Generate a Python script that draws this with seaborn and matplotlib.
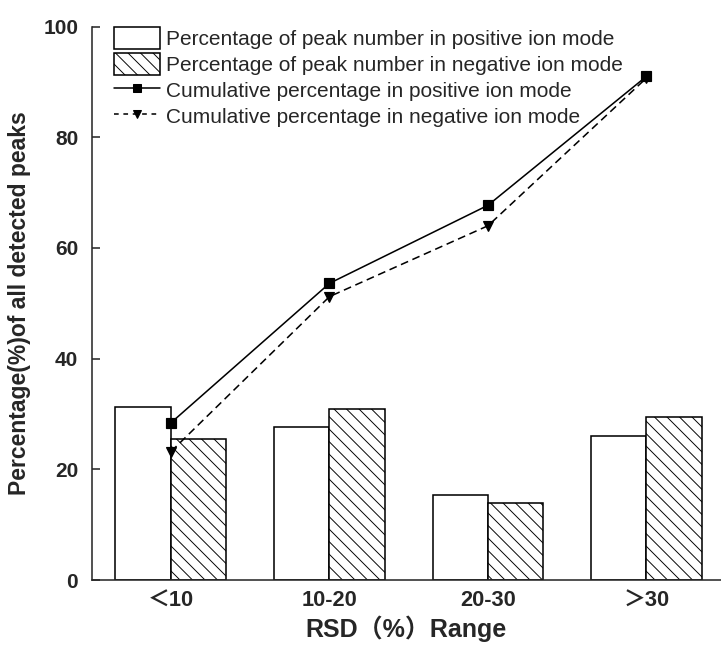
import numpy as np
import pandas as pd
import matplotlib
matplotlib.use("Agg")
import matplotlib.pyplot as plt
import seaborn as sns
from matplotlib.patches import Patch
from matplotlib.lines import Line2D

# ---- data ----
categories = ["＜10", "10-20", "20-30", "＞30"]
pos_percent = [31.3, 27.7, 15.3, 26.0]
neg_percent = [25.5, 30.9, 14.0, 29.5]
pos_cumulative = [28.4, 53.6, 67.7, 91.0]
neg_cumulative = [23.2, 51.2, 64.0, 90.7]
series_bar = ["Percentage of peak number in positive ion mode",
              "Percentage of peak number in negative ion mode"]
series_line = ["Cumulative percentage in positive ion mode",
               "Cumulative percentage in negative ion mode"]
yticks = [0, 20, 40, 60, 80, 100]

bar_df = pd.DataFrame({
    "range": categories * 2,
    "value": pos_percent + neg_percent,
    "series": [series_bar[0]] * 4 + [series_bar[1]] * 4,
})
line_df = pd.DataFrame({
    "range": categories * 2,
    "value": pos_cumulative + neg_cumulative,
    "series": [series_line[0]] * 4 + [series_line[1]] * 4,
})

sns.set_style("ticks")
plt.rcParams["font.family"] = ["Liberation Sans", "Noto Sans CJK SC"]
plt.rcParams["hatch.linewidth"] = 0.9
plt.rcParams["hatch.color"] = "black"

DPI = 75
fig = plt.figure(figsize=(721 / DPI, 647 / DPI), dpi=DPI)
ax = fig.add_axes([91.7 / 721, 1 - 580 / 647, 1 - 91.7 / 721, (580 - 26.5) / 647])

sns.barplot(data=bar_df, x="range", y="value", hue="series", order=categories,
            hue_order=series_bar, palette=["white", "white"], edgecolor="black",
            linewidth=1.5, width=0.7, gap=0, saturation=1, legend=False, ax=ax,
            zorder=2)
for bar in ax.containers[1]:
    bar.set_hatch("\\\\")

sns.pointplot(data=line_df, x="range", y="value", hue="series", order=categories,
              hue_order=series_line, palette=["black", "black"],
              markers=["s", "v"], linestyles=["-", "--"], dodge=False,
              legend=False, ax=ax, markersize=9, linewidth=1.5, zorder=4)
for ln in ax.lines:
    if ln.get_linestyle() == "--":
        ln.set_dashes((5, 3))

ax.set_xlim(-0.5, 3.47)
ax.set_ylim(0, 100)
ax.set_yticks(yticks)
ax.set_yticklabels([str(t) for t in yticks])
for s in ["top", "right"]:
    ax.spines[s].set_visible(False)
for s in ["left", "bottom"]:
    ax.spines[s].set_linewidth(1.5)
ax.tick_params(axis="y", direction="in", length=7.5, width=1.5, pad=13,
               labelsize=20)
ax.tick_params(axis="x", length=0, pad=10, labelsize=21)
for lab in ax.get_yticklabels():
    lab.set_fontweight("bold")
for lab in ax.get_xticklabels():
    lab.set_fontweight("bold")

ax.set_xlabel("RSD（%）Range", fontsize=24, fontweight="bold", labelpad=4)
ax.set_ylabel("Percentage(%)of all detected peaks", fontsize=22,
              fontweight="bold", labelpad=12)

handles = [
    Patch(facecolor="white", edgecolor="black", linewidth=1.5),
    Patch(facecolor="white", edgecolor="black", linewidth=1.5, hatch="\\\\"),
    Line2D([], [], color="black", linestyle="-", marker="s", markersize=8, lw=1.5),
    Line2D([], [], color="black", linestyle="--", dashes=(3, 3), marker="v",
           markersize=8, lw=1.5),
]
ax.legend(handles, series_bar + series_line, loc="upper left",
          bbox_to_anchor=(0.036, 1.0), frameon=False, fontsize=20,
          handlelength=2.2, handleheight=1.25, handletextpad=0.3,
          labelspacing=0.2, borderaxespad=0, borderpad=0)

fig.savefig("out.png", dpi=DPI)
